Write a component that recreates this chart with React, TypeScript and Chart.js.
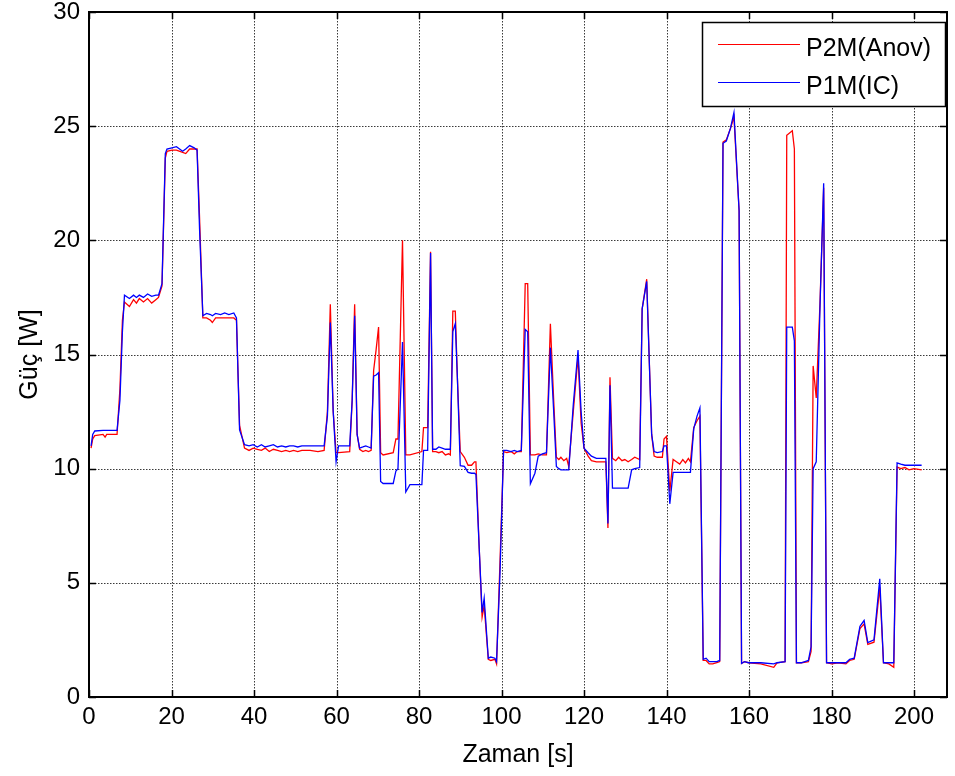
import React, { useEffect, useRef } from "react";
import { Chart, registerables } from "chart.js";

Chart.register(...registerables);

// time [s]
const timeS = [
  0.5, 0.9, 1.4, 3.4, 3.9, 4.3, 6.8, 7.5, 8.1, 8.6, 9.8, 10.8, 11.5, 12.2, 13.2, 14.2, 15.2, 16.2, 16.85, 17.7,
  18.5, 18.9, 20.1, 21.2, 22.7, 23.45, 24.4, 25.5, 26.2, 26.8, 27.6, 28.5, 29.45, 29.9, 30.7, 31.9, 32.9, 33.9, 35.1, 35.75,
  36.5, 37.7, 38.8, 39.8, 40.8, 41.8, 42.7, 43.7, 44.7, 45.7, 46.7, 47.7, 48.65, 49.6, 50.6, 51.6, 53.6, 55.5, 57.0, 57.8,
  58.5, 59.2, 59.9, 60.5, 63.2, 63.8, 64.4, 65.0, 65.6, 66.4, 67.1, 67.75, 68.4, 69.0, 69.6, 70.2, 70.7, 71.3, 73.75, 74.4,
  74.9, 76.0, 76.8, 77.8, 80.7, 81.1, 82.1, 82.8, 83.3, 84.1, 84.8, 85.6, 86.4, 87.2, 87.6, 88.2, 88.8, 89.3, 90.0, 91.0,
  91.9, 92.75, 93.45, 93.8, 94.6, 95.3, 95.8, 96.8, 97.4, 98.4, 98.8, 99.65, 100.5, 101.3, 102.3, 103.1, 103.8, 104.8, 105.75, 106.35,
  107.0, 108.1, 108.9, 109.9, 110.9, 111.85, 112.65, 113.3, 113.9, 114.4, 115.1, 115.8, 116.3, 117.4, 118.55, 119.3, 120.0, 121.0, 121.8, 123.0,
  125.3, 125.8, 126.3, 126.9, 127.7, 128.4, 129.2, 129.9, 130.7, 131.55, 132.3, 133.5, 134.1, 135.2, 136.4, 137.0, 137.75, 139.0, 139.4, 140.0,
  140.8, 141.6, 142.4, 143.2, 143.95, 144.6, 145.3, 145.8, 146.6, 147.4, 148.1, 148.9, 149.6, 150.35, 151.2, 152.2, 152.9, 153.7, 154.5, 155.5,
  156.35, 157.6, 158.2, 158.9, 159.9, 162.85, 166.0, 166.8, 168.75, 169.15, 170.5, 171.0, 171.5, 172.7, 174.4, 175.05, 175.55, 176.3, 177.2, 178.1,
  178.8, 180.1, 181.55, 183.5, 184.4, 185.5, 186.9, 187.9, 188.8, 190.3, 191.7, 192.6, 193.9, 195.1, 195.9, 196.8, 197.8, 198.8, 200.0, 201.85,
];

// P2M(Anov) power [W]
const p2mAnov = [
  10.9, 11.3, 11.45, 11.5, 11.38, 11.5, 11.5, 13.5, 16.5, 17.3, 17.1, 17.4, 17.25, 17.45, 17.3, 17.45, 17.25, 17.4, 17.5, 18.0,
  23.6, 23.9, 23.95, 23.95, 23.85, 23.8, 24.0, 24.0, 24.0, 21.0, 16.6, 16.6, 16.5, 16.4, 16.6, 16.6, 16.6, 16.6, 16.6, 16.5,
  11.9, 10.9, 10.8, 10.9, 10.85, 10.8, 10.9, 10.75, 10.85, 10.8, 10.75, 10.8, 10.75, 10.8, 10.75, 10.8, 10.8, 10.75, 10.8, 12.5,
  17.2, 12.5, 10.7, 10.7, 10.75, 13.0, 17.2, 11.5, 10.85, 10.75, 10.8, 10.75, 10.8, 14.3, 15.2, 16.2, 10.7, 10.6, 10.7, 11.3,
  11.3, 20.0, 10.6, 10.6, 10.75, 11.8, 11.8, 19.5, 10.75, 10.75, 10.7, 10.75, 10.6, 10.65, 10.6, 16.9, 16.9, 14.0, 10.75, 10.5,
  10.15, 10.15, 10.3, 10.3, 6.5, 3.5, 4.0, 1.65, 1.6, 1.65, 1.45, 6.0, 10.75, 10.7, 10.75, 10.65, 10.75, 10.75, 18.1, 18.1,
  10.6, 10.6, 10.65, 10.6, 10.6, 16.35, 13.0, 10.5, 10.4, 10.5, 10.35, 10.45, 10.1, 12.5, 14.9, 12.0, 10.9, 10.55, 10.35, 10.3,
  10.3, 7.4, 14.0, 10.45, 10.35, 10.5, 10.35, 10.4, 10.3, 10.4, 10.5, 10.4, 17.0, 18.3, 11.5, 10.55, 10.5, 10.5, 11.3, 11.42,
  9.0, 10.4, 10.3, 10.2, 10.4, 10.25, 10.45, 10.3, 11.8, 12.1, 12.3, 1.6, 1.6, 1.45, 1.45, 1.5, 1.55, 24.3, 24.4, 24.9,
  25.4, 21.3, 1.47, 1.55, 1.5, 1.45, 1.3, 1.5, 1.55, 24.6, 24.8, 24.0, 1.5, 1.5, 1.55, 2.0, 14.5, 13.1, 17.2, 22.3,
  1.5, 1.45, 1.5, 1.45, 1.6, 1.65, 3.0, 3.2, 2.3, 2.4, 4.8, 1.5, 1.45, 1.3, 10.07, 10.0, 10.05, 9.95, 10.0, 9.95,
];

// P1M(IC) power [W]
const p1mIC = [
  11.0, 11.5, 11.65, 11.68, 11.68, 11.68, 11.68, 13.0, 16.0, 17.6, 17.45, 17.6, 17.5, 17.6, 17.5, 17.65, 17.55, 17.6, 17.6, 18.1,
  23.8, 24.0, 24.05, 24.1, 23.9, 24.0, 24.15, 24.05, 23.95, 20.5, 16.7, 16.8, 16.75, 16.7, 16.8, 16.75, 16.82, 16.75, 16.82, 16.6,
  11.7, 11.05, 11.0, 11.05, 10.95, 11.05, 10.95, 11.0, 11.05, 10.95, 11.0, 10.95, 11.0, 11.0, 10.95, 11.0, 11.0, 11.0, 11.0, 12.3,
  16.4, 12.5, 10.3, 11.0, 11.0, 13.0, 16.7, 11.5, 10.9, 10.95, 11.0, 10.95, 10.9, 14.05, 14.1, 14.2, 9.44, 9.35, 9.35, 9.9,
  10.0, 15.55, 8.98, 9.3, 9.3, 10.8, 10.8, 19.45, 10.85, 10.85, 10.95, 10.9, 10.85, 10.85, 10.85, 16.0, 16.35, 14.0, 10.13, 10.1,
  9.84, 9.8, 9.8, 9.75, 6.5, 3.7, 4.33, 1.7, 1.75, 1.7, 1.55, 5.5, 10.8, 10.8, 10.75, 10.8, 10.75, 10.8, 16.1, 16.0,
  9.34, 9.8, 10.55, 10.65, 10.7, 15.3, 12.5, 10.1, 10.0, 9.95, 9.95, 9.95, 9.95, 12.8, 15.2, 12.5, 10.9, 10.7, 10.55, 10.45,
  10.45, 7.6, 13.65, 9.15, 9.15, 9.15, 9.15, 9.15, 9.15, 9.95, 10.0, 10.05, 17.0, 18.2, 11.5, 10.75, 10.7, 10.75, 11.0, 11.0,
  8.46, 9.84, 9.84, 9.84, 9.84, 9.84, 9.84, 9.84, 11.74, 12.3, 12.66, 1.65, 1.7, 1.55, 1.55, 1.55, 1.6, 24.25, 24.35, 24.9,
  25.6, 21.3, 1.47, 1.55, 1.5, 1.5, 1.45, 1.5, 1.55, 16.2, 16.2, 15.6, 1.5, 1.5, 1.6, 2.2, 10.0, 10.3, 17.0, 22.5,
  1.5, 1.5, 1.5, 1.5, 1.65, 1.7, 3.1, 3.35, 2.38, 2.5, 5.18, 1.5, 1.5, 1.5, 10.25, 10.2, 10.15, 10.15, 10.15, 10.15,
];

const seriesLabels = ["P2M(Anov)", "P1M(IC)"];
const seriesColors = ["#ff0000", "#0000ff"];
const xAxisTitle = "Zaman [s]";
const yAxisTitle = "Güç [W]";
const xRange = [0, 208];
const yRange = [0, 30];
const xStep = 20;
const yStep = 5;

const FONT = "'Liberation Sans', Arial, Helvetica, sans-serif";

const matlabAxesPlugin = {
  id: "matlabAxes",
  beforeDatasetsDraw(chart: any) {
    const { ctx, chartArea } = chart;
    const { left, right, top, bottom } = chartArea;
    const xs = chart.scales.x;
    const ys = chart.scales.y;
    ctx.save();
    ctx.strokeStyle = "#3a3a3a";
    ctx.lineWidth = 1;
    ctx.setLineDash([1.5, 1.5]);
    xs.ticks.forEach((t: any) => {
      const px = Math.round(xs.getPixelForValue(t.value)) + 0.5;
      if (px <= left + 1 || px >= right - 1) return;
      ctx.beginPath();
      ctx.moveTo(px, top);
      ctx.lineTo(px, bottom);
      ctx.stroke();
    });
    ys.ticks.forEach((t: any) => {
      const py = Math.round(ys.getPixelForValue(t.value)) + 0.5;
      if (py <= top + 1 || py >= bottom - 1) return;
      ctx.beginPath();
      ctx.moveTo(left, py);
      ctx.lineTo(right, py);
      ctx.stroke();
    });
    ctx.restore();
  },
  afterDatasetsDraw(chart: any) {
    const { ctx, chartArea } = chart;
    const { left, right, top, bottom } = chartArea;
    const xs = chart.scales.x;
    const ys = chart.scales.y;
    ctx.save();
    ctx.setLineDash([]);
    ctx.strokeStyle = "#000";
    ctx.lineWidth = 2;
    ctx.strokeRect(left, top, right - left, bottom - top);
    const tl = 7;
    ctx.lineWidth = 1.5;
    xs.ticks.forEach((t: any) => {
      const px = Math.round(xs.getPixelForValue(t.value)) + 0.5;
      ctx.beginPath();
      ctx.moveTo(px, bottom);
      ctx.lineTo(px, bottom - tl);
      ctx.moveTo(px, top);
      ctx.lineTo(px, top + tl);
      ctx.stroke();
    });
    ys.ticks.forEach((t: any) => {
      const py = Math.round(ys.getPixelForValue(t.value)) + 0.5;
      ctx.beginPath();
      ctx.moveTo(left, py);
      ctx.lineTo(left + tl, py);
      ctx.moveTo(right, py);
      ctx.lineTo(right - tl, py);
      ctx.stroke();
    });
    // legend
    const bx = 702, by = 22, bw = 243, bh = 84;
    ctx.fillStyle = "#fff";
    ctx.fillRect(bx, by, bw, bh);
    ctx.lineWidth = 1.5;
    ctx.strokeStyle = "#000";
    ctx.strokeRect(bx + 0.5, by + 0.5, bw, bh);
    ctx.font = `25px ${FONT}`;
    ctx.textBaseline = "middle";
    ctx.textAlign = "left";
    chart.data.datasets.forEach((ds: any, i: number) => {
      const ly = by + 22 + i * 38;
      ctx.strokeStyle = ds.borderColor;
      ctx.lineWidth = 1;
      ctx.beginPath();
      ctx.moveTo(718, ly + 0.5);
      ctx.lineTo(800, ly + 0.5);
      ctx.stroke();
      ctx.fillStyle = "#000";
      ctx.fillText(ds.label, 806, ly + 5);
    });
    ctx.restore();
  },
};

export default function App() {
  const canvasRef = useRef<HTMLCanvasElement | null>(null);

  useEffect(() => {
    const prevMargin = document.body.style.margin;
    document.body.style.margin = "0";
    const canvas = canvasRef.current;
    if (!canvas) return;
    const series = [p2mAnov, p1mIC];
    const chart = new Chart(canvas, {
      type: "line",
      data: {
        datasets: series.map((vals, i) => ({
          label: seriesLabels[i],
          data: timeS.map((t, j) => ({ x: t, y: vals[j] })),
          borderColor: seriesColors[i],
          backgroundColor: seriesColors[i],
          borderWidth: 1.3,
          pointRadius: 0,
          tension: 0,
          fill: false,
          order: i === 0 ? 1 : 0,
        })),
      },
      options: {
        responsive: false,
        animation: false,
        events: [],
        layout: { padding: { top: 12, right: 8, left: 0, bottom: 0 } },
        plugins: {
          legend: { display: false },
          tooltip: { enabled: false },
        },
        scales: {
          x: {
            type: "linear",
            min: xRange[0],
            max: xRange[1],
            ticks: {
              stepSize: xStep,
              includeBounds: false,
              color: "#000",
              padding: 6,
              maxRotation: 0,
              autoSkip: false,
              font: { family: FONT, size: 24 },
            },
            grid: { display: false, drawTicks: false },
            border: { display: false },
            title: {
              display: true,
              text: xAxisTitle,
              color: "#000",
              font: { family: FONT, size: 25 },
              padding: { top: 0, bottom: 6 },
            },
            afterFit: (scale: any) => {
              scale.height = 79;
              scale.paddingLeft = 0;
              scale.paddingRight = 0;
            },
          },
          y: {
            type: "linear",
            min: yRange[0],
            max: yRange[1],
            ticks: {
              stepSize: yStep,
              color: "#000",
              padding: 9,
              font: { family: FONT, size: 24 },
            },
            grid: { display: false, drawTicks: false },
            border: { display: false },
            title: {
              display: true,
              text: yAxisTitle,
              color: "#000",
              font: { family: FONT, size: 25 },
              padding: { top: 15, bottom: 0 },
            },
            afterFit: (scale: any) => {
              scale.width = 89;
              scale.paddingTop = 0;
              scale.paddingBottom = 0;
            },
          },
        },
      },
      plugins: [matlabAxesPlugin],
    });
    return () => {
      chart.destroy();
      document.body.style.margin = prevMargin;
    };
  }, []);

  return (
    <div style={{ position: "absolute", left: 0, top: 0, width: 955, height: 776, background: "#fff" }}>
      <canvas ref={canvasRef} width={955} height={776} style={{ display: "block", width: 955, height: 776 }} />
    </div>
  );
}
